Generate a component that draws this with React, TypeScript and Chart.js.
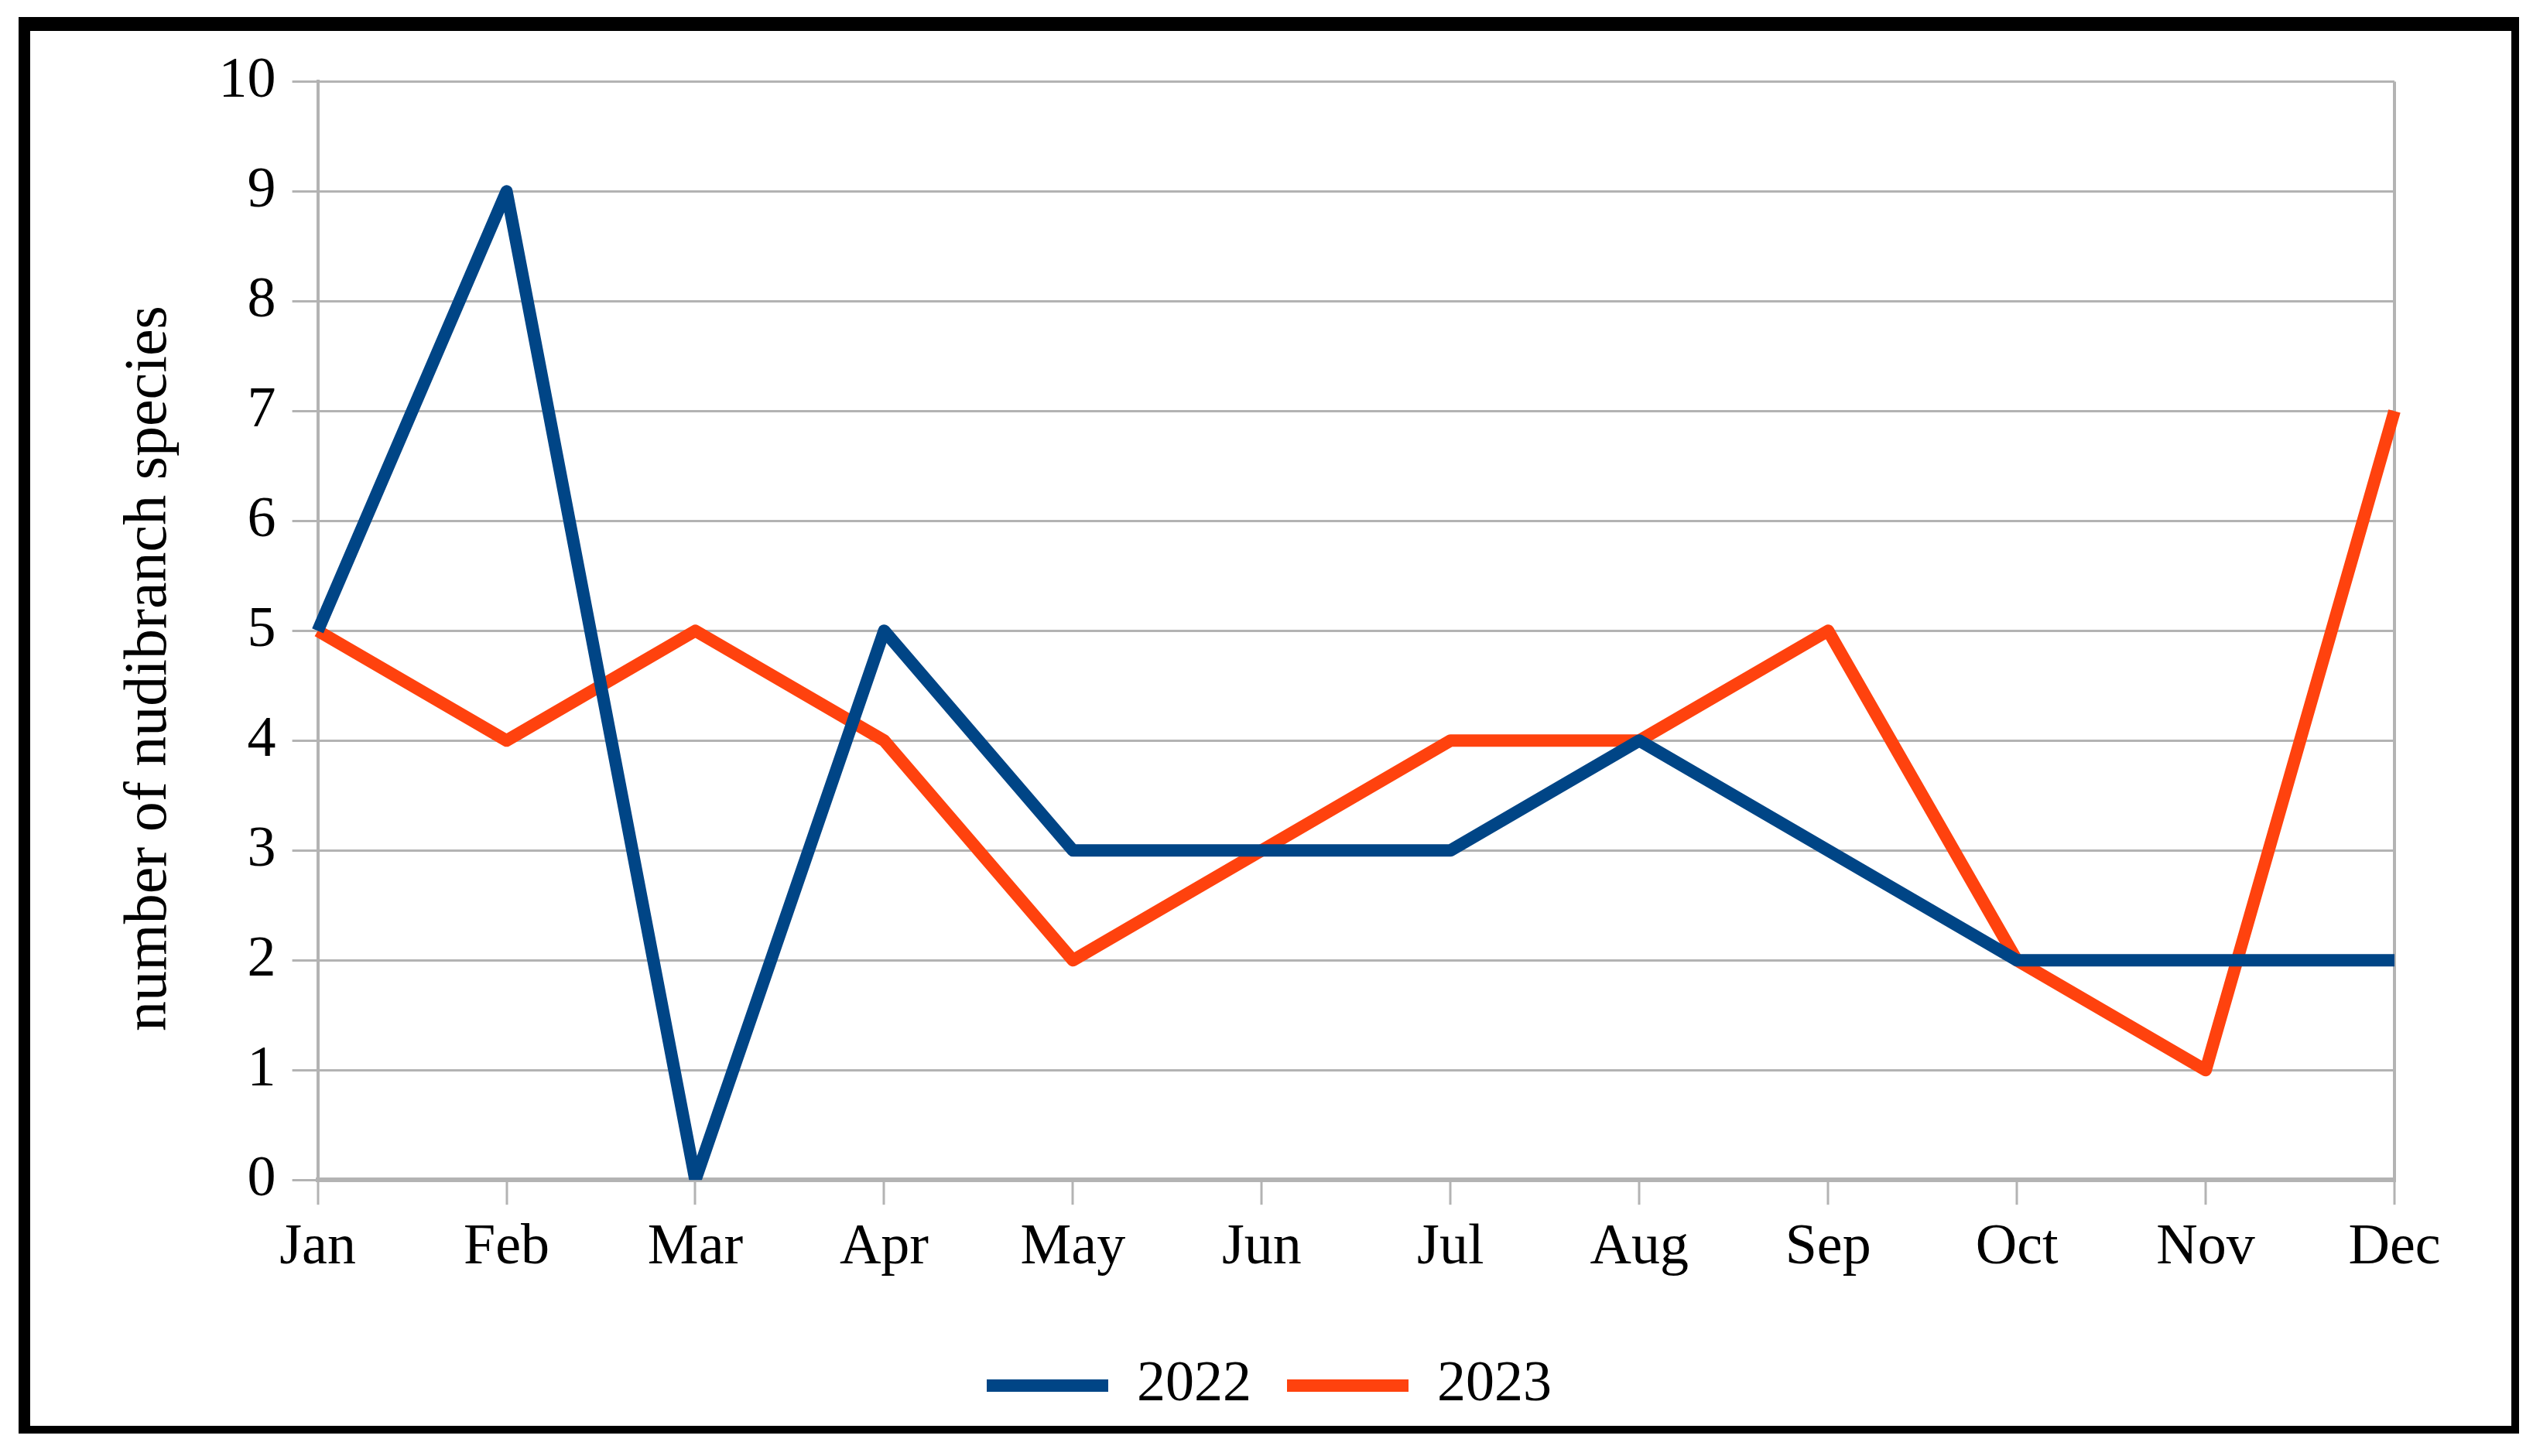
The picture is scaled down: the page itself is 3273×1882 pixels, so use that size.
import React, { useEffect, useRef } from 'react';
import { Chart, registerables } from 'chart.js';

Chart.register(...registerables);

const months = ['Jan', 'Feb', 'Mar', 'Apr', 'May', 'Jun', 'Jul', 'Aug', 'Sep', 'Oct', 'Nov', 'Dec'];
const values2022 = [5, 9, 0, 5, 3, 3, 3, 4, 3, 2, 2, 2];
const values2023 = [5, 4, 5, 4, 2, 3, 4, 4, 5, 2, 1, 7];
const yMin = 0;
const yMax = 10;
const yStep = 1;
const yTitle = 'number of nudibranch species';

const FONT = "'Liberation Serif', 'Times New Roman', serif";
const GRID = '#b3b3b3';

export default function App() {
  const ref = useRef<HTMLCanvasElement>(null);

  useEffect(() => {
    const chart = new Chart(ref.current!, {
      type: 'line',
      data: {
        labels: months,
        datasets: [
          {
            label: '2022',
            data: values2022,
            borderColor: '#004586',
            backgroundColor: '#004586',
            borderWidth: 16,
            pointRadius: 0,
            borderJoinStyle: 'round',
            tension: 0,
          },
          {
            label: '2023',
            data: values2023,
            borderColor: '#ff420e',
            backgroundColor: '#ff420e',
            borderWidth: 16,
            pointRadius: 0,
            borderJoinStyle: 'round',
            tension: 0,
          },
        ],
      },
      options: {
        animation: false,
        responsive: true,
        maintainAspectRatio: false,
        layout: { padding: { left: 147, top: 64, right: 151, bottom: 5 } },
        plugins: {
          tooltip: { enabled: false },
          legend: {
            position: 'bottom',
            labels: {
              usePointStyle: true,
              pointStyle: 'line',
              pointStyleWidth: 157,
              boxHeight: 14,
              padding: 46,
              color: '#000',
              font: { family: FONT, size: 74 },
            },
          },
        },
        scales: {
          x: {
            offset: false,
            afterFit: (scale: any) => {
              scale.height += 38;
            },
            grid: {
              display: true,
              drawOnChartArea: true,
              color: (ctx: any) => (ctx.index === months.length - 1 ? GRID : 'rgba(0,0,0,0)'),
              lineWidth: 4,
              tickColor: GRID,
              tickWidth: 3,
              tickLength: 32,
            },
            border: { display: true, color: GRID, width: 6 },
            ticks: {
              color: '#000',
              font: { family: FONT, size: 74 },
              padding: 12,
              maxRotation: 0,
              autoSkip: false,
            },
          },
          y: {
            min: yMin,
            max: yMax,
            grid: {
              color: GRID,
              lineWidth: 3,
              tickLength: 33,
            },
            border: { display: true, color: GRID, width: 4 },
            ticks: {
              stepSize: yStep,
              color: '#000',
              font: { family: FONT, size: 74 },
              padding: 21,
            },
            title: {
              display: true,
              text: yTitle + '     ',
              color: '#000',
              font: { family: FONT, size: 78 },
              padding: { top: -39, bottom: 21 },
            },
          },
        },
      },
    });
    return () => chart.destroy();
  }, []);

  return (
    <div
      style={{
        position: 'absolute',
        left: 24,
        top: 22,
        width: 3231,
        height: 1831,
        boxSizing: 'border-box',
        borderStyle: 'solid',
        borderColor: '#000',
        borderWidth: '18px 10px 10px 15px',
        background: '#fff',
      }}
    >
      <div style={{ position: 'relative', width: 3206, height: 1803 }}>
        <canvas ref={ref} />
      </div>
    </div>
  );
}
